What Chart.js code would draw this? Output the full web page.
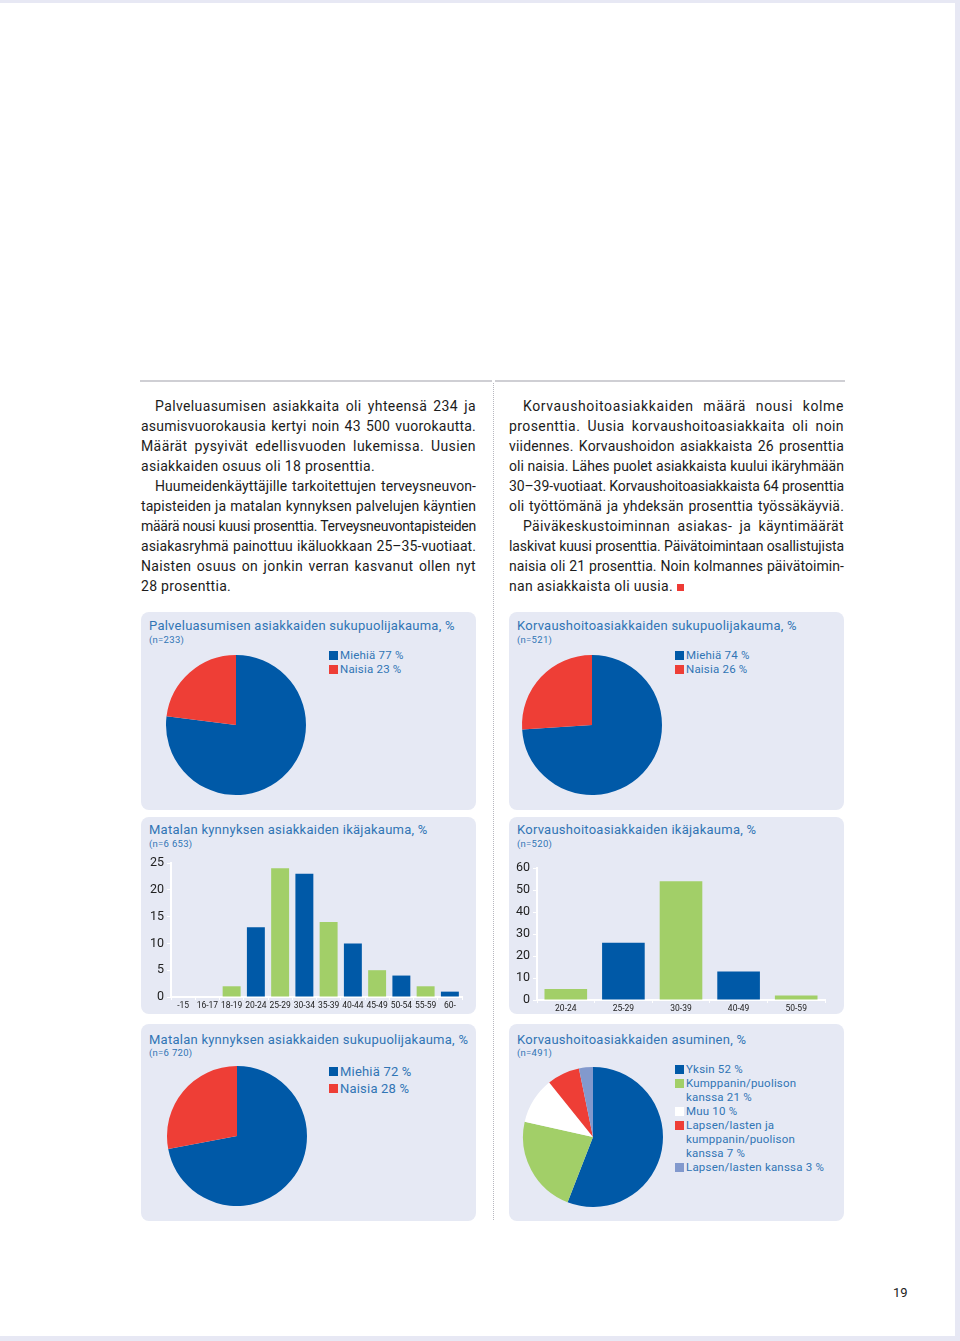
<!DOCTYPE html>
<html lang="fi">
<head>
<meta charset="UTF-8">
<title>Vuosikertomus s. 19</title>
<script src="https://cdn.jsdelivr.net/npm/chart.js@4.4.0/dist/chart.umd.min.js"></script>
<style>
  html, body { margin: 0; padding: 0; background: #fff; }
  body { width: 960px; height: 1341px; position: relative; overflow: hidden; font-family: Roboto, "Noto Sans", sans-serif; }
  .edge { position: absolute; background: #e7e8f4; }
  .rule { position: absolute; top: 380px; height: 2px; background: #cfcfd4; }
  .vsep { position: absolute; left: 493px; top: 383px; height: 837px; border-left: 1px dotted #b8b8c0; }
  .col { position: absolute; top: 396px; width: 335px; font-size: 14px; color: #1c1c1c; }
  .ln { height: 20px; line-height: 20px; white-space: nowrap; overflow: visible; }
  .ln.in { padding-left: 14px; }
  .end { display: inline-block; width: 7px; height: 7px; background: #ee3b35; margin-left: 4px; vertical-align: 0px; }
  .panel { position: absolute; width: 335px; background: #e6e9f4; border-radius: 8px; }
  .ttl { position: absolute; left: 8px; font-size: 13px; line-height: 16px; color: #3175b5; white-space: nowrap; letter-spacing: 0.25px; }
  .n { position: absolute; left: 8px; font-size: 9.5px; line-height: 11px; color: #3175b5; letter-spacing: 0.3px; }
  canvas { position: absolute; }
  .lgd { position: absolute; color: #3175b5; white-space: nowrap; letter-spacing: 0.2px; }
  .lgd .it { position: relative; padding-left: 11px; }
  .lgd .sw { position: absolute; left: 0; width: 9px; height: 9px; }
  .pg { position: absolute; left: 893px; top: 1285px; font-size: 13px; color: #222; }
</style>
</head>
<body>
<div class="edge" style="left:0;top:0;width:960px;height:3px"></div>
<div class="edge" style="left:955px;top:0;width:5px;height:1341px"></div>
<div class="edge" style="left:0;top:1336px;width:960px;height:5px"></div>

<div class="rule" style="left:140px;width:352px"></div>
<div class="rule" style="left:495px;width:350px"></div>
<div class="vsep"></div>

<div class="col" style="left:141px">
  <div class="ln in j"><span>Palveluasumisen asiakkaita oli yhteensä 234 ja</span></div>
  <div class="ln j"><span>asumisvuorokausia kertyi noin 43 500 vuorokautta.</span></div>
  <div class="ln j"><span>Määrät pysyivät edellisvuoden lukemissa. Uusien</span></div>
  <div class="ln"><span>asiakkaiden osuus oli 18 prosenttia.</span></div>
  <div class="ln in j"><span>Huumeidenkäyttäjille tarkoitettujen terveysneuvon-</span></div>
  <div class="ln j"><span>tapisteiden ja matalan kynnyksen palvelujen käyntien</span></div>
  <div class="ln j"><span>määrä nousi kuusi prosenttia. Terveysneuvontapisteiden</span></div>
  <div class="ln j"><span>asiakasryhmä painottuu ikäluokkaan 25–35-vuotiaat.</span></div>
  <div class="ln j"><span>Naisten osuus on jonkin verran kasvanut ollen nyt</span></div>
  <div class="ln"><span>28 prosenttia.</span></div>
</div>

<div class="col" style="left:509px">
  <div class="ln in j"><span>Korvaushoitoasiakkaiden määrä nousi kolme</span></div>
  <div class="ln j"><span>prosenttia. Uusia korvaushoitoasiakkaita oli noin</span></div>
  <div class="ln j"><span>viidennes. Korvaushoidon asiakkaista 26 prosenttia</span></div>
  <div class="ln j"><span>oli naisia. Lähes puolet asiakkaista kuului ikäryhmään</span></div>
  <div class="ln j"><span>30–39-vuotiaat. Korvaushoitoasiakkaista 64 prosenttia</span></div>
  <div class="ln j"><span>oli työttömänä ja yhdeksän prosenttia työssäkäyviä.</span></div>
  <div class="ln in j"><span>Päiväkeskustoiminnan asiakas- ja käyntimäärät</span></div>
  <div class="ln j"><span>laskivat kuusi prosenttia. Päivätoimintaan osallistujista</span></div>
  <div class="ln j"><span>naisia oli 21 prosenttia. Noin kolmannes päivätoimin-</span></div>
  <div class="ln"><span>nan asiakkaista oli uusia.</span><span class="end"></span></div>
</div>

<!-- row 1 -->
<div class="panel" style="left:141px;top:612px;height:198px">
  <div class="ttl" style="top:6px">Palveluasumisen asiakkaiden sukupuolijakauma, %</div>
  <div class="n" style="top:22px">(n=233)</div>
</div>
<div class="panel" style="left:509px;top:612px;height:198px">
  <div class="ttl" style="top:6px">Korvaushoitoasiakkaiden sukupuolijakauma, %</div>
  <div class="n" style="top:22px">(n=521)</div>
</div>
<!-- row 2 -->
<div class="panel" style="left:141px;top:817px;height:197px">
  <div class="ttl" style="top:5px">Matalan kynnyksen asiakkaiden ikäjakauma, %</div>
  <div class="n" style="top:21px">(n=6 653)</div>
</div>
<div class="panel" style="left:509px;top:817px;height:197px">
  <div class="ttl" style="top:5px">Korvaushoitoasiakkaiden ikäjakauma, %</div>
  <div class="n" style="top:21px">(n=520)</div>
</div>
<!-- row 3 -->
<div class="panel" style="left:141px;top:1024px;height:197px">
  <div class="ttl" style="top:8px">Matalan kynnyksen asiakkaiden sukupuolijakauma, %</div>
  <div class="n" style="top:23px">(n=6 720)</div>
</div>
<div class="panel" style="left:509px;top:1024px;height:197px">
  <div class="ttl" style="top:8px">Korvaushoitoasiakkaiden asuminen, %</div>
  <div class="n" style="top:23px">(n=491)</div>
</div>

<canvas id="pie1" width="144" height="144" style="left:164px;top:653px"></canvas>
<canvas id="pie2" width="144" height="144" style="left:520px;top:653px"></canvas>
<canvas id="pie3" width="144" height="144" style="left:165px;top:1064px"></canvas>
<canvas id="pie4" width="144" height="144" style="left:521px;top:1065px"></canvas>
<canvas id="bar1" width="335" height="165" style="left:141px;top:852px"></canvas>
<canvas id="bar2" width="335" height="162" style="left:509px;top:857px"></canvas>

<div class="lgd" id="lg1" style="left:329px;top:648px;font-size:11.5px;line-height:14px"></div>
<div class="lgd" id="lg2" style="left:675px;top:648px;font-size:11.5px;line-height:14px"></div>
<div class="lgd" id="lg3" style="left:329px;top:1063px;font-size:13px;line-height:17px"></div>
<div class="lgd" id="lg4" style="left:675px;top:1062px;font-size:11.5px;line-height:14px"></div>

<div class="pg">19</div>

<script>
// --- data ---
const genderLabels = ['Miehiä', 'Naisia'];
const palveluValues = [77, 23];
const korvausGenderValues = [74, 26];
const matalaGenderValues = [72, 28];

const asumisLabels = [
  ['Yksin'],
  ['Kumppanin/puolison', 'kanssa'],
  ['Muu'],
  ['Lapsen/lasten ja', 'kumppanin/puolison', 'kanssa'],
  ['Lapsen/lasten kanssa']
];
const asumisValues = [52, 21, 10, 7, 3];

const matalaAgeLabels = ['-15', '16-17', '18-19', '20-24', '25-29', '30-34', '35-39', '40-44', '45-49', '50-54', '55-59', '60-'];
const matalaAgeValues = [0, 0, 2, 13, 24, 23, 14, 10, 5, 4, 2, 1];

const korvausAgeLabels = ['20-24', '25-29', '30-39', '40-49', '50-59'];
const korvausAgeValues = [5, 26, 54, 13, 2];

// --- colours ---
const BLUE = '#0059a7', RED = '#ee3e36', GREEN = '#a2cf68', WHITE = '#ffffff', LIGHT = '#8299cd';
const genderColors = [BLUE, RED];
const asumisColors = [BLUE, GREEN, WHITE, RED, LIGHT];

// justify the text lines: spread slack mostly as tracking, the rest between words
document.querySelectorAll('.col').forEach(col => {
  col.querySelectorAll('.ln').forEach(ln => {
    const span = ln.querySelector('span');
    const avail = 335 - (ln.classList.contains('in') ? 14 : 0);
    const w = span.getBoundingClientRect().width;
    const txt = span.textContent;
    const extra = avail - w;
    if (ln.classList.contains('j')) {
      const spaces = (txt.match(/ /g) || []).length;
      if (extra >= 0) {
        span.style.letterSpacing = (extra * 0.6 / txt.length) + 'px';
        span.style.wordSpacing = (extra * 0.4 / spaces) + 'px';
      } else {
        span.style.letterSpacing = (extra / txt.length) + 'px';
      }
    } else {
      span.style.letterSpacing = '0.3px';
    }
  });
});

function legend(id, labels, values, colors) {
  const el = document.getElementById(id);
  el.innerHTML = labels.map((lab, i) => {
    const lines = Array.isArray(lab) ? lab.slice() : [lab];
    lines[lines.length - 1] += ' ' + values[i] + ' %';
    return `<div class="it"><span class="sw" style="background:${colors[i]};top:${(parseFloat(el.style.lineHeight) - 9) / 2}px"></span>${lines.join('<br>')}</div>`;
  }).join('');
}

function pie(id, labels, values, colors) {
  new Chart(document.getElementById(id), {
    type: 'pie',
    data: {
      labels: labels.map(l => Array.isArray(l) ? l.join(' ') : l),
      datasets: [{ data: values, backgroundColor: colors, borderWidth: 0 }]
    },
    options: {
      responsive: false,
      animation: false,
      layout: { padding: 2 },
      plugins: { legend: { display: false }, tooltip: { enabled: false } }
    }
  });
}

function bar(id, labels, values, max, step, yWidth, xHeight, pad) {
  new Chart(document.getElementById(id), {
    type: 'bar',
    data: {
      labels: labels,
      datasets: [{
        data: values,
        backgroundColor: values.map((v, i) => i % 2 === 0 ? GREEN : BLUE),
        borderWidth: 0,
        barPercentage: 0.74,
        categoryPercentage: 1
      }]
    },
    options: {
      responsive: false,
      animation: false,
      layout: { padding: pad },
      plugins: { legend: { display: false }, tooltip: { enabled: false } },
      scales: {
        x: {
          afterFit: s => { s.height = xHeight; },
          border: { color: WHITE, width: 2 },
          grid: { drawOnChartArea: false, color: WHITE, tickLength: 3, offset: true },
          ticks: { color: '#222', font: { family: 'Roboto', size: 8.5 }, maxRotation: 0, autoSkip: false, padding: 1 }
        },
        y: {
          min: 0, max: max,
          afterFit: s => { s.width = yWidth; },
          border: { color: WHITE, width: 2 },
          grid: { drawOnChartArea: false, color: WHITE, tickLength: 4 },
          ticks: { stepSize: step, color: '#222', font: { family: 'Roboto', size: 12.5 }, padding: 3 }
        }
      }
    }
  });
}

pie('pie1', genderLabels, palveluValues, genderColors);
pie('pie2', genderLabels, korvausGenderValues, genderColors);
pie('pie3', genderLabels, matalaGenderValues, genderColors);
pie('pie4', asumisLabels, asumisValues, asumisColors);

legend('lg1', genderLabels, palveluValues, genderColors);
legend('lg2', genderLabels, korvausGenderValues, genderColors);
legend('lg3', genderLabels, matalaGenderValues, genderColors);
legend('lg4', asumisLabels, asumisValues, asumisColors);

bar('bar1', matalaAgeLabels, matalaAgeValues, 25, 5, 30, 20, { top: 11, right: 14, left: 0, bottom: 0 });
bar('bar2', korvausAgeLabels, korvausAgeValues, 60, 10, 28, 19, { top: 11, right: 19, left: 0, bottom: 0 });
</script>
</body>
</html>
